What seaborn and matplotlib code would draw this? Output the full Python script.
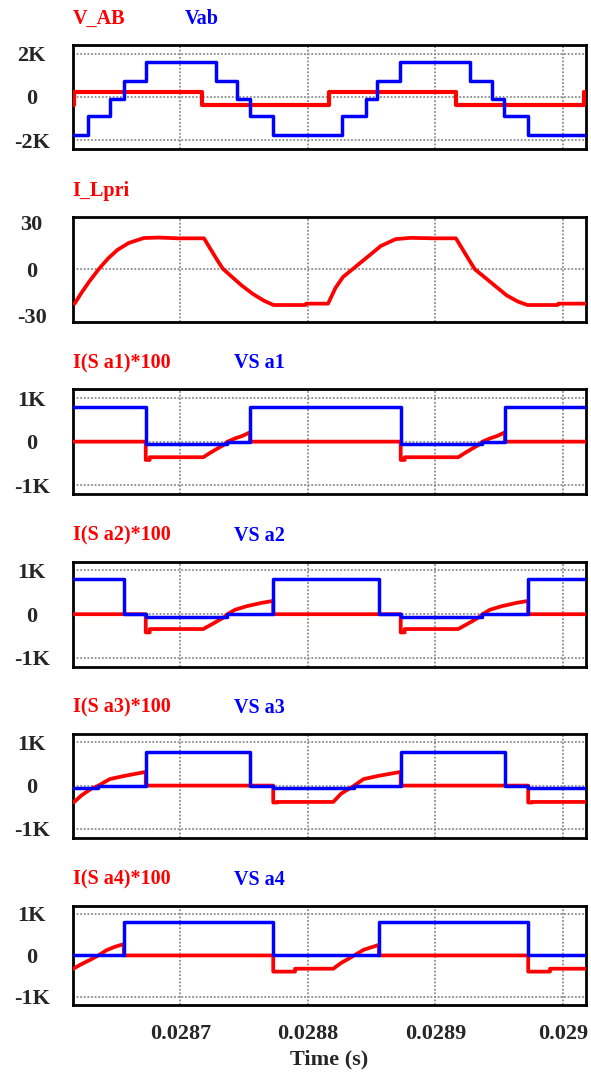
import matplotlib
matplotlib.use("Agg")
import matplotlib.pyplot as plt
import seaborn as sns
import pandas as pd

# ---------------- data ----------------
T_MIN, T_MAX = 0.0286156, 0.0290180
X_TICKS = [0.0287, 0.0288, 0.0289, 0.0290]
X_TICK_LABELS = ["0.0287", "0.0288", "0.0289", "0.029"]

# Panel 1 : V_AB (red) and Vab (blue) -- step signals (edge time, level)
VAB_RED_T = [0.0286156, 0.0286166, 0.0287168, 0.0288169, 0.0289162, 0.0290166, 0.0290180]
VAB_RED_V = [-390, 230, -390, 230, -390, 230, 230]
VAB_BLUE_T = [0.0286156, 0.0286278, 0.0286449, 0.0286558, 0.0286729, 0.0287278, 0.0287447,
              0.0287547, 0.0287729, 0.0288271, 0.0288456, 0.0288545, 0.0288723, 0.0289274,
              0.0289447, 0.0289541, 0.0289725, 0.0290180]
VAB_BLUE_V = [-1750, -860, -90, 740, 1600, 740, -90, -860, -1750, -860, -90, 740, 1600, 740,
              -90, -860, -1750, -1750]

# Panel 2 : I_Lpri
ILPRI_T = [0.0286171, 0.0286227, 0.0286286, 0.0286360, 0.0286434, 0.0286507, 0.0286596,
           0.0286714, 0.0286832, 0.0286979, 0.0287186, 0.0287230, 0.0287289, 0.0287333,
           0.0287392, 0.0287481, 0.0287569, 0.0287658, 0.0287732, 0.0287982, 0.0287988,
           0.0288159, 0.0288218, 0.0288277, 0.0288351, 0.0288425, 0.0288499, 0.0288572,
           0.0288690, 0.0288808, 0.0288985, 0.0289162, 0.0289206, 0.0289265, 0.0289310,
           0.0289384, 0.0289472, 0.0289561, 0.0289649, 0.0289723, 0.0289959, 0.0289965,
           0.0290180]
ILPRI_V = [-22.3, -15, -8, 0, 7, 12.5, 17, 20.2, 20.5, 20, 20, 14, 6, 0.4, -4, -10.5, -16,
           -20.5, -23.2, -23.2, -22.3, -22.3, -12, -5, 0, 5, 10, 15, 19.5, 20.3, 20, 20, 14,
           6, 0, -5, -11, -17, -21, -23.2, -23.2, -22.3, -22.3]

# Panel 3 : I(Sa1)*100 (red) and VSa1 (blue)
ISA1_T = [0.0286156, 0.0286729, 0.0286729, 0.0286760, 0.0286760, 0.0287180, 0.0287235,
          0.0287290, 0.0287340, 0.0287370, 0.0287430, 0.0287490, 0.0287547, 0.0287547,
          0.0288729, 0.0288729, 0.0288760, 0.0288760, 0.0289180, 0.0289235, 0.0289290,
          0.0289340, 0.0289370, 0.0289430, 0.0289490, 0.0289547, 0.0289547, 0.0290180]
ISA1_V = [0, 0, -420, -420, -357, -357, -255, -160, -75, 0, 75, 135, 215, 0,
          0, -420, -420, -357, -357, -255, -160, -75, 0, 75, 135, 215, 0, 0]
VSA1_T = [0.0286156, 0.0286729, 0.0287364, 0.0287547, 0.0288729, 0.0289364, 0.0289547, 0.0290180]
VSA1_V = [790, -60, 0, 790, -60, 0, 790, 790]

# Panel 4 : I(Sa2)*100 (red) and VSa2 (blue)
ISA2_T = [0.0286156, 0.0286729, 0.0286729, 0.0286760, 0.0286760, 0.0287180, 0.0287235,
          0.0287290, 0.0287340, 0.0287370, 0.0287428, 0.0287517, 0.0287636, 0.0287729,
          0.0287729, 0.0288729, 0.0288729, 0.0288760, 0.0288760, 0.0289180, 0.0289235,
          0.0289290, 0.0289340, 0.0289370, 0.0289428, 0.0289517, 0.0289636, 0.0289729,
          0.0289729, 0.0290180]
ISA2_V = [0, 0, -417, -417, -339, -339, -250, -160, -75, 0, 100, 180, 258, 305,
          0, 0, -417, -417, -339, -339, -250, -160, -75, 0, 100, 180, 258, 305, 0, 0]
VSA2_T = [0.0286156, 0.0286558, 0.0286729, 0.0287364, 0.0287729, 0.0288558, 0.0288729,
          0.0289364, 0.0289729, 0.0290180]
VSA2_V = [800, 0, -60, 0, 800, 0, -60, 0, 800, 800]

# Panel 5 : I(Sa3)*100 (red) and VSa3 (blue)
ISA3_T = [0.0286156, 0.0286168, 0.0286225, 0.0286299, 0.0286358, 0.0286447, 0.0286566,
          0.0286729, 0.0286729, 0.0287729, 0.0287729, 0.0287760, 0.0287760, 0.0288200,
          0.0288260, 0.0288364, 0.0288438, 0.0288557, 0.0288729, 0.0288729, 0.0289729,
          0.0289729, 0.0289760, 0.0289760, 0.0290180]
ISA3_V = [-385, -377, -226, -75, 0, 151, 226, 317, 0, 0, -390, -390, -377, -377,
          -189, 0, 151, 226, 317, 0, 0, -390, -390, -377, -377]
VSA3_T = [0.0286156, 0.0286358, 0.0286729, 0.0287547, 0.0287729, 0.0288364, 0.0288729,
          0.0289547, 0.0289729, 0.0290180]
VSA3_V = [-50, 0, 785, 0, -50, 0, 785, 0, -50, -50]

# Panel 6 : I(Sa4)*100 (red) and VSa4 (blue)
ISA4_T = [0.0286156, 0.0286213, 0.0286292, 0.0286357, 0.0286423, 0.0286488, 0.0286558,
          0.0286558, 0.0287729, 0.0287729, 0.0287900, 0.0287900, 0.0288200, 0.0288260,
          0.0288364, 0.0288438, 0.0288558, 0.0288558, 0.0289729, 0.0289729, 0.0289900,
          0.0289900, 0.0290180]
ISA4_V = [-330, -228, -107, 0, 129, 210, 274, 0, 0, -390, -390, -320, -320, -184,
          0, 136, 256, 0, 0, -390, -390, -320, -320]
VSA4_T = [0.0286156, 0.0286558, 0.0287729, 0.0288558, 0.0289729, 0.0290180]
VSA4_V = [0, 800, 0, 800, 0, 0]

TITLES_RED = ["V_AB", "I_Lpri", "I(S a1)*100", "I(S a2)*100", "I(S a3)*100", "I(S a4)*100"]
TITLES_BLUE = ["Vab", None, "VS a1", "VS a2", "VS a3", "VS a4"]
Y_TICKS = [[-2000, 0, 2000], [-30, 0, 30]] + [[-1000, 0, 1000]] * 4
Y_TICK_LABELS = [["-2K", "0", "2K"], ["-30", "0", "30"]] + [["-1K", "0", "1K"]] * 4
Y_LIMS = [(-2400, 2400), (-34, 34)] + [(-1200, 1200)] * 4

RED_SERIES = [(VAB_RED_T, VAB_RED_V, "step"), (ILPRI_T, ILPRI_V, "line"),
              (ISA1_T, ISA1_V, "line"), (ISA2_T, ISA2_V, "line"),
              (ISA3_T, ISA3_V, "line"), (ISA4_T, ISA4_V, "line")]
BLUE_SERIES = [(VAB_BLUE_T, VAB_BLUE_V), None, (VSA1_T, VSA1_V), (VSA2_T, VSA2_V),
               (VSA3_T, VSA3_V), (VSA4_T, VSA4_V)]

# ---------------- styling ----------------
sns.set_style("white")
plt.rcParams["font.family"] = ["Liberation Serif", "DejaVu Serif"]
plt.rcParams["font.weight"] = "bold"

RED = "#ff0000"
BLUE = "#0000ff"
W, H = 591, 1077
fig = plt.figure(figsize=(W / 100, H / 100), dpi=100)

LEFT_PX, RIGHT_PX = 72.7, 585.7
TOPS_PX = [45, 216.7, 389.3, 561.7, 733.6, 905.7]
HEIGHTS_PX = [104, 105, 104.7, 105, 104, 99.5]

axes = []
for i in range(6):
    top, h = TOPS_PX[i], HEIGHTS_PX[i]
    ax = fig.add_axes([LEFT_PX / W, 1 - (top + h) / H, (RIGHT_PX - LEFT_PX) / W, h / H])
    axes.append(ax)

    rt, rv, kind = RED_SERIES[i]
    df_r = pd.DataFrame({"t": rt, "v": rv})
    if kind == "step":
        sns.lineplot(data=df_r, x="t", y="v", ax=ax, color=RED, linewidth=3.0,
                     estimator=None, sort=False, drawstyle="steps-post", zorder=3)
    else:
        sns.lineplot(data=df_r, x="t", y="v", ax=ax, color=RED, linewidth=2.7,
                     estimator=None, sort=False, zorder=3)
    if BLUE_SERIES[i] is not None:
        bt, bv = BLUE_SERIES[i]
        df_b = pd.DataFrame({"t": bt, "v": bv})
        sns.lineplot(data=df_b, x="t", y="v", ax=ax, color=BLUE, linewidth=2.5,
                     estimator=None, sort=False, drawstyle="steps-post", zorder=4)

    ax.set_xlim(T_MIN, T_MAX)
    ax.set_ylim(*Y_LIMS[i])
    ax.set_xticks(X_TICKS)
    ax.set_yticks(Y_TICKS[i])
    ax.set_yticklabels(Y_TICK_LABELS[i], fontsize=16, fontweight="bold")
    for lab in ax.get_yticklabels():
        lab.set_horizontalalignment("center")
    ax.tick_params(axis="y", length=0, pad=29.5)
    ax.tick_params(axis="x", length=0, pad=13.5)
    ax.set_ylabel("")
    if i < 5:
        ax.set_xticklabels([])
        ax.set_xlabel("")
    else:
        ax.set_xticklabels(X_TICK_LABELS, fontsize=16, fontweight="bold")
        ax.set_xlabel("Time (s)", fontsize=16, fontweight="bold", labelpad=4)

    grid_kw = dict(color="#8c8c8c", linestyle=(0, (1.0, 1.0)), linewidth=1.3)
    ax.xaxis.grid(True, **grid_kw)
    if i == 1:
        ax.yaxis.grid(False)
        ax.axhline(0, zorder=0.5, **grid_kw)
    else:
        ax.yaxis.grid(True, **grid_kw)
    ax.set_axisbelow(True)

    for sp in ax.spines.values():
        sp.set_visible(True)
        sp.set_color("black")
        sp.set_linewidth(2.0)

    yt = 1 + 26 / h
    ax.text(0.0, yt, TITLES_RED[i], transform=ax.transAxes, color=RED, ha="left",
            va="center", fontsize=14.5, fontweight="bold")
    if TITLES_BLUE[i] is not None:
        bx = (185 - LEFT_PX) / (RIGHT_PX - LEFT_PX) if i == 0 else (234 - LEFT_PX) / (RIGHT_PX - LEFT_PX)
        ax.text(bx, yt, TITLES_BLUE[i], transform=ax.transAxes, color=BLUE, ha="left",
                va="center", fontsize=14.5, fontweight="bold")

fig.savefig("out.png", dpi=100)
